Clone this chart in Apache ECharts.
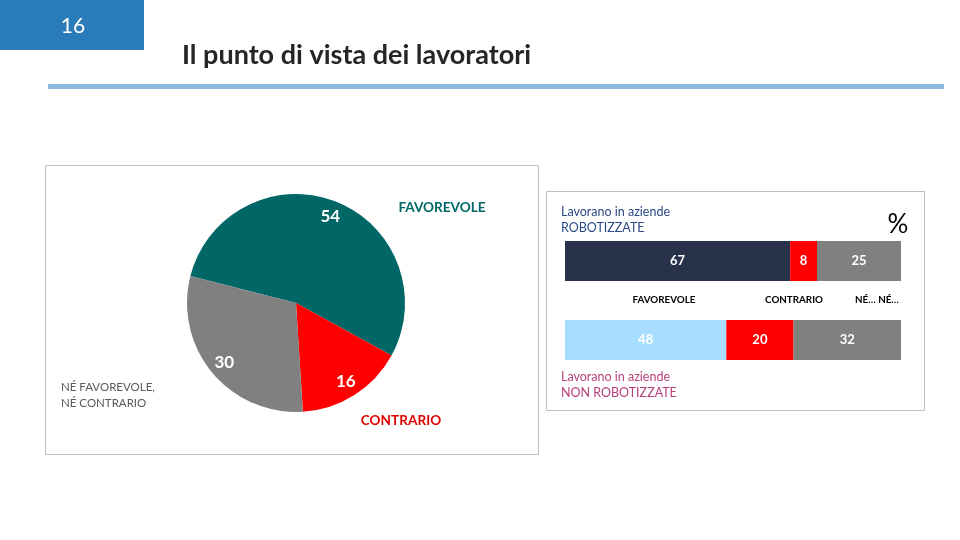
<!DOCTYPE html>
<html><head><meta charset="utf-8">
<script src="https://cdn.jsdelivr.net/npm/echarts@6/dist/echarts.min.js"></script>
<style>html,body{margin:0;padding:0;background:#fff}#c{width:960px;height:540px}</style>
</head><body><div id="c"></div>
<script>
// Pie data
const pieCategories = ['FAVOREVOLE', 'CONTRARIO', 'NÉ FAVOREVOLE,\nNÉ CONTRARIO'];
const pieValues = [54, 16, 30];
// Bar data
const barGroups = ['Lavorano in aziende\nROBOTIZZATE', 'Lavorano in aziende\nNON ROBOTIZZATE'];
const barSeriesNames = ['FAVOREVOLE', 'CONTRARIO', 'NÉ… NÉ…'];
const favorevole = [67, 48];
const contrario = [8, 20];
const neNe = [25, 32];

const FONT = 'Lato, "Noto Sans", sans-serif';
const pieColors = ['#006666', '#FF0000', '#808080'];
const chart = echarts.init(document.getElementById('c'), null, {renderer: 'canvas'});

const barLabel = {show: true, position: 'inside', color: '#fff', fontWeight: 'bold', fontSize: 13, fontFamily: FONT};

chart.setOption({
  animation: false,
  backgroundColor: '#fff',
  grid: {left: 565, width: 336, top: 221.5, height: 158},
  xAxis: {type: 'value', min: 0, max: 100, show: false},
  yAxis: {type: 'category', data: barGroups, inverse: true, show: false},
  series: [
    {type: 'pie', center: [296, 303], radius: [0, 109], startAngle: 165.6, clockwise: true,
     silent: true, label: {show: false}, labelLine: {show: false},
     itemStyle: {borderWidth: 0},
     data: pieValues.map((v, i) => ({name: pieCategories[i], value: v, itemStyle: {color: pieColors[i]}}))},
    {type: 'pie', center: [296, 303], radius: [71, 109], startAngle: 165.6, clockwise: true,
     silent: true, z: 5,
     itemStyle: {color: 'rgba(0,0,0,0)'},
     label: {show: true, position: 'inside', formatter: '{c}', color: '#fff', fontWeight: 'bold', fontSize: 17, fontFamily: FONT},
     labelLine: {show: false},
     data: pieValues.map((v, i) => ({name: pieCategories[i], value: v}))},
    {type: 'bar', name: barSeriesNames[0], stack: 's', barWidth: 40, data: favorevole,
     itemStyle: {color: (p) => p.dataIndex === 0 ? '#28324B' : '#A7DEFD'}, label: barLabel},
    {type: 'bar', name: barSeriesNames[1], stack: 's', barWidth: 40, data: contrario,
     itemStyle: {color: '#FF0000'}, label: barLabel},
    {type: 'bar', name: barSeriesNames[2], stack: 's', barWidth: 40, data: neNe,
     itemStyle: {color: '#808080'}, label: barLabel}
  ],
  graphic: [
    {type: 'rect', shape: {x: 0, y: 0, width: 144, height: 50}, style: {fill: '#2A7BBA'}},
    {type: 'text', x: 73, y: 26, style: {text: '16', fill: '#fff', font: '21px ' + FONT, textAlign: 'center', textVerticalAlign: 'middle'}},
    {type: 'text', x: 182, y: 55, style: {text: 'Il punto di vista dei lavoratori', fill: '#262626', font: 'bold 27px ' + FONT, textVerticalAlign: 'middle'}},
    {type: 'rect', shape: {x: 48, y: 84, width: 896, height: 5}, style: {fill: '#8EB8DE'}},
    {type: 'rect', shape: {x: 45.5, y: 165.5, width: 493, height: 289}, style: {fill: 'none', stroke: '#BFBFBF', lineWidth: 1}},
    {type: 'rect', shape: {x: 546.5, y: 191.5, width: 378, height: 219}, style: {fill: 'none', stroke: '#BFBFBF', lineWidth: 1}},
    {type: 'text', x: 442, y: 208, style: {text: pieCategories[0], fill: '#006666', font: 'bold 13.6px ' + FONT, textAlign: 'center', textVerticalAlign: 'middle'}},
    {type: 'text', x: 401, y: 421, style: {text: pieCategories[1], fill: '#E00000', font: 'bold 13.6px ' + FONT, textAlign: 'center', textVerticalAlign: 'middle'}},
    {type: 'text', x: 61, y: 379, style: {text: pieCategories[2], fill: '#595959', font: '11.5px ' + FONT, lineHeight: 16}},
    {type: 'text', x: 561, y: 204, style: {text: barGroups[0], fill: '#2B4A86', font: '12.5px ' + FONT, lineHeight: 16}},
    {type: 'text', x: 561, y: 369, style: {text: barGroups[1], fill: '#B8407A', font: '12.5px ' + FONT, lineHeight: 16}},
    {type: 'text', x: 898, y: 225, style: {text: '%', fill: '#000', font: '26px ' + FONT, textAlign: 'center', textVerticalAlign: 'middle'}},
    {type: 'text', x: 664, y: 300, style: {text: barSeriesNames[0], fill: '#000', font: 'bold 9.8px ' + FONT, textAlign: 'center', textVerticalAlign: 'middle'}},
    {type: 'text', x: 794, y: 300, style: {text: barSeriesNames[1], fill: '#000', font: 'bold 9.8px ' + FONT, textAlign: 'center', textVerticalAlign: 'middle'}},
    {type: 'text', x: 877, y: 300, style: {text: barSeriesNames[2], fill: '#000', font: 'bold 9.8px ' + FONT, textAlign: 'center', textVerticalAlign: 'middle'}}
  ]
});
</script></body></html>
